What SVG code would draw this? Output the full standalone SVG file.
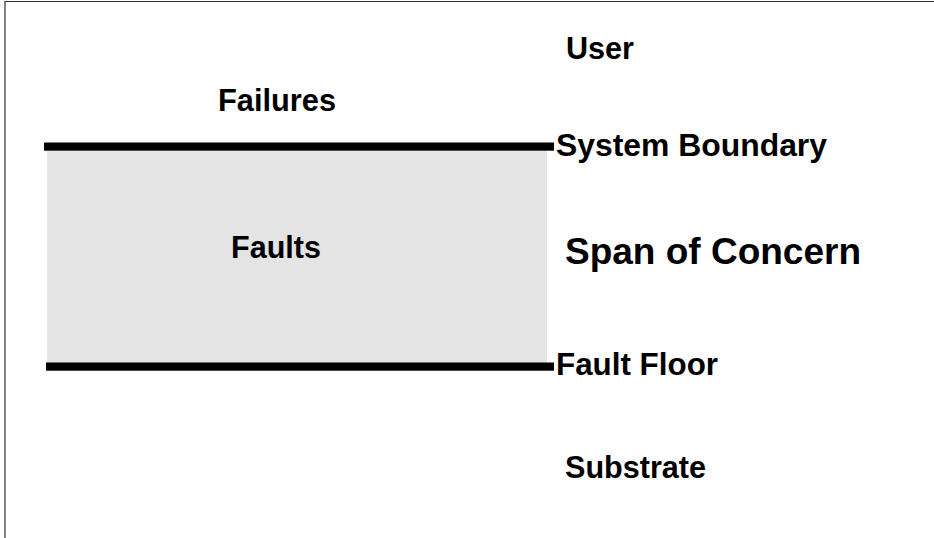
<svg xmlns="http://www.w3.org/2000/svg" width="934" height="538" viewBox="0 0 934 538">
  <style>
    text { font-family: "Liberation Sans", Arial, sans-serif; font-weight: bold; fill: #000; font-size: 31px; }
    .bar { fill: #000; }
    .frame { stroke: #333; stroke-width: 1.2; fill: none; }
  </style>
  <rect width="934" height="538" fill="#fff"/>
  <g id="frame">
    <path class="frame" d="M5,538 V1.5 H934"/>
  </g>
  <g id="span-region">
    <rect x="47" y="151" width="500" height="212" fill="#e4e4e4"/>
    <text x="231" y="258" textLength="90" lengthAdjust="spacingAndGlyphs">Faults</text>
  </g>
  <g id="connectors">
    <rect id="system-boundary-line" class="bar" x="44" y="142.5" width="510" height="8.2"/>
    <rect id="fault-floor-line" class="bar" x="46" y="362.5" width="508" height="8.2"/>
  </g>
  <g id="user"><text x="566" y="59" textLength="68" lengthAdjust="spacingAndGlyphs">User</text></g>
  <g id="failures"><text x="218" y="111" textLength="118" lengthAdjust="spacingAndGlyphs">Failures</text></g>
  <g id="system-boundary"><text x="556" y="156" textLength="271" lengthAdjust="spacingAndGlyphs">System Boundary</text></g>
  <g id="span-of-concern"><text x="565" y="264" style="font-size:37px" textLength="296" lengthAdjust="spacingAndGlyphs">Span of Concern</text></g>
  <g id="fault-floor"><text x="556" y="375" textLength="162" lengthAdjust="spacingAndGlyphs">Fault Floor</text></g>
  <g id="substrate"><text x="565" y="478" textLength="141" lengthAdjust="spacingAndGlyphs">Substrate</text></g>
</svg>
